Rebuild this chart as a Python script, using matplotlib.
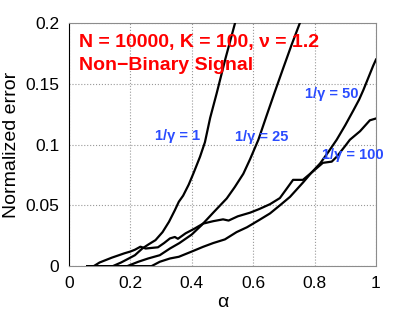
import matplotlib
matplotlib.use('Agg')
import matplotlib.pyplot as plt

# 1/gamma = 1
alpha_1 = [0.06, 0.143, 0.17, 0.195, 0.215, 0.239, 0.26, 0.282, 0.305, 0.326, 0.345, 0.358,
           0.372, 0.39, 0.405, 0.427, 0.443, 0.46, 0.481, 0.51, 0.541, 0.56]
err_1 = [0, 0, 0.003, 0.0063, 0.009, 0.0145, 0.018, 0.0214, 0.028, 0.0365, 0.046, 0.053,
         0.058, 0.067, 0.076, 0.09, 0.102, 0.122, 0.142, 0.171, 0.2, 0.218]

# 1/gamma = 25
alpha_25 = [0.06, 0.19, 0.226, 0.258, 0.296, 0.329, 0.36, 0.4, 0.432, 0.47, 0.514, 0.54,
            0.568, 0.59, 0.617, 0.644, 0.67, 0.698, 0.725, 0.752, 0.77]
err_25 = [0, 0, 0.0036, 0.0063, 0.009, 0.0145, 0.019, 0.026, 0.0337, 0.044, 0.0557, 0.065,
          0.076, 0.088, 0.104, 0.124, 0.143, 0.163, 0.182, 0.2, 0.212]

# 1/gamma = 50
alpha_50 = [0.06, 0.269, 0.296, 0.329, 0.358, 0.4, 0.437, 0.47, 0.508, 0.546, 0.58, 0.62,
            0.655, 0.687, 0.72, 0.763, 0.79, 0.818, 0.845, 0.872, 0.9, 0.926, 0.945, 0.959,
            0.975, 0.991, 1.0]
err_50 = [0, 0, 0.0036, 0.0063, 0.0077, 0.012, 0.0159, 0.019, 0.022, 0.028, 0.032, 0.038,
          0.0434, 0.05, 0.057, 0.069, 0.077, 0.0845, 0.094, 0.104, 0.116, 0.128, 0.137, 0.145,
          0.155, 0.165, 0.17]

# 1/gamma = 100
alpha_100 = [0.06, 0.081, 0.1, 0.12, 0.14, 0.163, 0.18, 0.2, 0.215, 0.233, 0.25, 0.27, 0.29,
             0.31, 0.329, 0.345, 0.355, 0.38, 0.41, 0.437, 0.47, 0.502, 0.52, 0.55, 0.59, 0.62,
             0.655, 0.687, 0.71, 0.73, 0.762, 0.795, 0.827, 0.856, 0.872, 0.9, 0.915, 0.948,
             0.98, 1.0]
err_100 = [0, 0, 0.003, 0.005, 0.007, 0.009, 0.0105, 0.012, 0.0135, 0.016, 0.0145, 0.015, 0.0155,
           0.019, 0.0228, 0.024, 0.0225, 0.027, 0.031, 0.035, 0.037, 0.0385, 0.0375, 0.041, 0.044,
           0.047, 0.051, 0.056, 0.064, 0.071, 0.071, 0.078, 0.085, 0.086, 0.09, 0.099, 0.104,
           0.111, 0.12, 0.1215]

labels = ['1/\u03b3 = 1', '1/\u03b3 = 25', '1/\u03b3 = 50', '1/\u03b3 = 100']
label_pos = [(0.28, 0.107), (0.54, 0.106), (0.769, 0.1416), (0.824, 0.0914)]

plt.rcParams['font.family'] = ['Liberation Sans', 'DejaVu Sans']

fig = plt.figure(figsize=(4.15, 3.12), dpi=100)
ax = fig.add_axes([0.166, 0.147, 0.74, 0.779])

for a, e in [(alpha_1, err_1), (alpha_25, err_25), (alpha_50, err_50), (alpha_100, err_100)]:
    ax.plot(a, e, color='black', lw=1.6, zorder=3)

for txt, (x, y) in zip(labels, label_pos):
    ax.text(x, y, txt, color='#2a4cff', fontsize=10.5, fontweight='bold',
            ha='left', va='center', zorder=4)

ax.text(0.033, 0.184, 'N = 10000, K = 100, \u03bd = 1.2', color='red', fontsize=14,
        fontweight='bold', ha='left', va='center')
ax.text(0.033, 0.165, 'Non\u2212Binary Signal', color='red', fontsize=14,
        fontweight='bold', ha='left', va='center')

ax.set_xlim(0, 1)
ax.set_ylim(0, 0.2)
ax.set_xticks([0, 0.2, 0.4, 0.6, 0.8, 1])
ax.set_xticklabels(['0', '0.2', '0.4', '0.6', '0.8', '1'])
ax.set_yticks([0, 0.05, 0.1, 0.15, 0.2])
ax.set_yticklabels(['0', '0.05', '0.1', '0.15', '0.2'])
ax.tick_params(direction='in', length=0, labelsize=12.5, pad=7)
ax.grid(True, linestyle=':', color='0.6', lw=0.8)

for side in ['top', 'right', 'bottom']:
    ax.spines[side].set_color('0.55')
ax.spines['left'].set_color('black')

ax.set_xlabel('\u03b1', fontsize=14, labelpad=2)
ax.set_ylabel('Normalized error', fontsize=14, labelpad=4)

fig.savefig('out.png', dpi=100)
